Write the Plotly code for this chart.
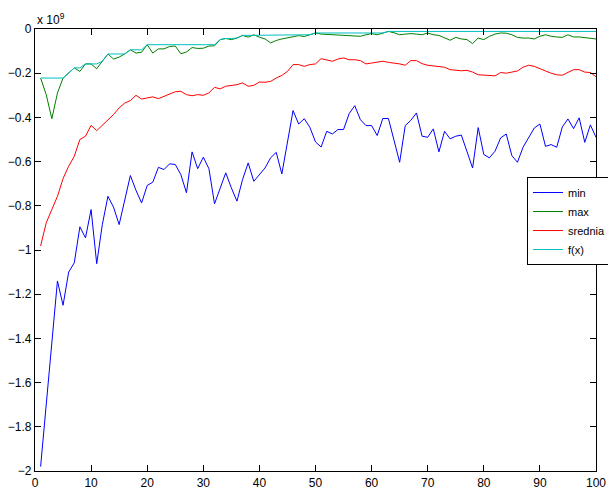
import plotly.graph_objects as go

# generation index
x = list(range(1, 101))

# values in units of 1e9 (axis multiplier "x 10^9")
min_vals = [
    -1.98, -1.70, -1.39, -1.14, -1.25, -1.10, -1.058, -0.895, -0.945, -0.817,
    -1.062, -0.885, -0.757, -0.806, -0.885, -0.772, -0.663, -0.730, -0.787, -0.708,
    -0.693, -0.626, -0.636, -0.610, -0.613, -0.659, -0.741, -0.556, -0.632, -0.580,
    -0.632, -0.791, -0.719, -0.651, -0.719, -0.779, -0.681, -0.606, -0.689, -0.659,
    -0.629, -0.583, -0.558, -0.656, -0.508, -0.369, -0.430, -0.406, -0.445, -0.511,
    -0.534, -0.463, -0.475, -0.455, -0.455, -0.383, -0.347, -0.410, -0.437, -0.437,
    -0.482, -0.405, -0.405, -0.508, -0.603, -0.437, -0.413, -0.380, -0.485, -0.490,
    -0.452, -0.556, -0.463, -0.497, -0.485, -0.480, -0.553, -0.629, -0.446, -0.568,
    -0.583, -0.553, -0.493, -0.475, -0.573, -0.603, -0.535, -0.488, -0.448, -0.430,
    -0.531, -0.523, -0.535, -0.443, -0.407, -0.451, -0.402, -0.513, -0.434, -0.490,
]

max_vals = [
    -0.222, -0.297, -0.406, -0.290, -0.222, -0.199, -0.176, -0.192, -0.158, -0.158,
    -0.180, -0.146, -0.113, -0.136, -0.127, -0.113, -0.094, -0.109, -0.105, -0.071,
    -0.109, -0.090, -0.090, -0.079, -0.077, -0.112, -0.104, -0.084, -0.088, -0.087,
    -0.077, -0.076, -0.048, -0.043, -0.048, -0.041, -0.029, -0.037, -0.026, -0.037,
    -0.045, -0.063, -0.052, -0.045, -0.041, -0.037, -0.030, -0.034, -0.027, -0.018,
    -0.023, -0.024, -0.026, -0.027, -0.029, -0.030, -0.031, -0.033, -0.026, -0.021,
    -0.026, -0.018, -0.011, -0.017, -0.026, -0.023, -0.021, -0.023, -0.026, -0.018,
    -0.026, -0.029, -0.041, -0.051, -0.038, -0.045, -0.048, -0.066, -0.041, -0.048,
    -0.033, -0.023, -0.018, -0.019, -0.026, -0.038, -0.041, -0.041, -0.045, -0.033,
    -0.026, -0.033, -0.036, -0.038, -0.026, -0.036, -0.036, -0.039, -0.041, -0.045,
]

mean_vals = [
    -0.982, -0.877, -0.817, -0.757, -0.677, -0.621, -0.576, -0.500, -0.485, -0.436,
    -0.460, -0.436, -0.410, -0.387, -0.357, -0.335, -0.324, -0.300, -0.317, -0.312,
    -0.307, -0.315, -0.305, -0.294, -0.284, -0.282, -0.297, -0.302, -0.297, -0.300,
    -0.289, -0.264, -0.271, -0.259, -0.255, -0.252, -0.244, -0.259, -0.255, -0.240,
    -0.241, -0.237, -0.222, -0.210, -0.192, -0.161, -0.161, -0.169, -0.161, -0.158,
    -0.134, -0.139, -0.146, -0.136, -0.131, -0.139, -0.139, -0.143, -0.158, -0.154,
    -0.151, -0.146, -0.151, -0.154, -0.158, -0.164, -0.143, -0.143, -0.157, -0.164,
    -0.166, -0.169, -0.173, -0.184, -0.187, -0.189, -0.187, -0.195, -0.207, -0.209,
    -0.210, -0.212, -0.197, -0.200, -0.195, -0.190, -0.173, -0.164, -0.169, -0.181,
    -0.190, -0.200, -0.207, -0.209, -0.197, -0.184, -0.184, -0.195, -0.197, -0.216,
]

f_vals = [
    -0.222, -0.222, -0.222, -0.222, -0.222, -0.199, -0.176, -0.176, -0.158, -0.158,
    -0.158, -0.146, -0.113, -0.113, -0.113, -0.113, -0.094, -0.094, -0.094, -0.071,
    -0.071, -0.071, -0.071, -0.071, -0.071, -0.071, -0.071, -0.071, -0.071, -0.071,
    -0.071, -0.071, -0.048, -0.043, -0.043, -0.041, -0.029, -0.029, -0.026, -0.026,
    -0.026, -0.026, -0.026, -0.026, -0.026, -0.026, -0.026, -0.026, -0.026, -0.018,
    -0.018, -0.018, -0.018, -0.018, -0.018, -0.018, -0.018, -0.018, -0.018, -0.018,
    -0.018, -0.018, -0.011, -0.011, -0.011, -0.011, -0.011, -0.011, -0.011, -0.011,
    -0.011, -0.011, -0.011, -0.011, -0.011, -0.011, -0.011, -0.011, -0.011, -0.011,
    -0.011, -0.011, -0.011, -0.011, -0.011, -0.011, -0.011, -0.011, -0.011, -0.011,
    -0.011, -0.011, -0.011, -0.011, -0.011, -0.011, -0.011, -0.011, -0.011, -0.011,
]

series_names = ["min", "max", "srednia", "f(x)"]
series_colors = ["#0000ff", "#008000", "#ff0000", "#00bfbf"]
x_ticks = [0, 10, 20, 30, 40, 50, 60, 70, 80, 90, 100]
y_ticks = [0, -0.2, -0.4, -0.6, -0.8, -1, -1.2, -1.4, -1.6, -1.8, -2]
y_tick_labels = ["0", "\u22120.2", "\u22120.4", "\u22120.6", "\u22120.8", "\u22121",
                 "\u22121.2", "\u22121.4", "\u22121.6", "\u22121.8", "\u22122"]

fig = go.Figure()
for name, vals, col in zip(series_names, [min_vals, max_vals, mean_vals, f_vals], series_colors):
    fig.add_trace(go.Scatter(x=x, y=vals, mode="lines", name=name,
                             line=dict(color=col, width=1)))

font = dict(family="Liberation Sans, Arial, Helvetica, sans-serif", size=12, color="black")
axis_common = dict(showgrid=False, zeroline=False, showline=True, linecolor="black",
                   linewidth=1.3, mirror="ticks", ticks="inside", ticklen=6,
                   tickcolor="black", tickwidth=1.2, automargin=False)

# the page body adds an 8px offset, so the figure is sized to the remaining window
fig.update_layout(
    template="none",
    width=608, height=481,
    margin=dict(l=27, r=20, t=21, b=18, autoexpand=False),
    paper_bgcolor="white", plot_bgcolor="white",
    font=font,
    showlegend=True,
    legend=dict(xref="container", yref="container", x=0.8536, y=0.6486,
                xanchor="left", yanchor="top",
                bgcolor="white", bordercolor="black", borderwidth=1,
                font=dict(family="Liberation Sans, Arial, sans-serif", size=11, color="black"),
                tracegroupgap=0, itemwidth=30),
    xaxis=dict(range=[0, 100], tickvals=x_ticks, **axis_common),
    yaxis=dict(range=[-2, 0], tickvals=y_ticks, ticktext=y_tick_labels, **axis_common),
    annotations=[dict(text="x 10<sup>9</sup>", xref="paper", yref="paper",
                      x=0, y=1, xanchor="left", yanchor="bottom", showarrow=False,
                      font=font, yshift=0)],
)

fig.write_html("out.html")
